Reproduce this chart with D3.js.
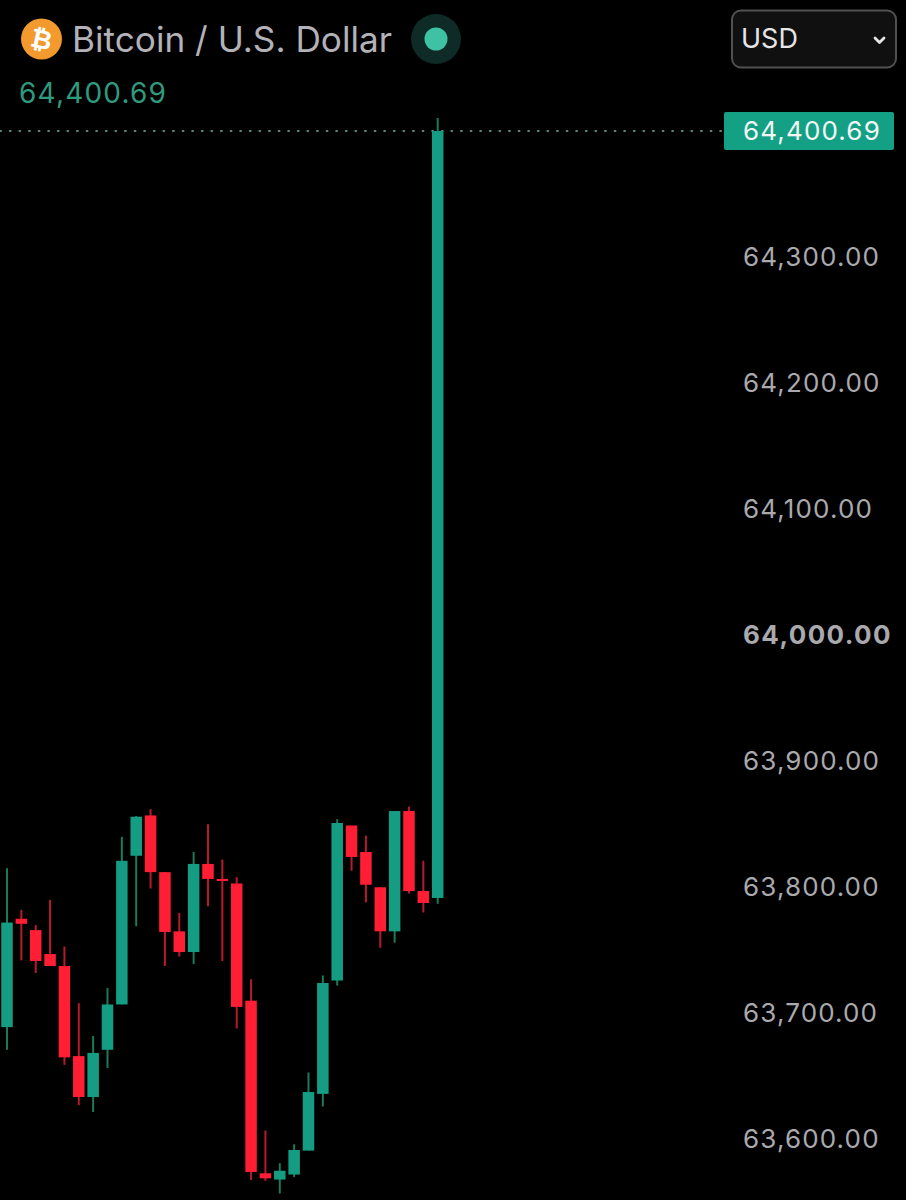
<!DOCTYPE html>
<html>
<head>
<meta charset="utf-8">
<style>
  html, body { margin: 0; padding: 0; background: #000; overflow: hidden; }
  text { font-family: Inter, "Noto Sans", sans-serif; }
</style>
<script src="https://cdn.jsdelivr.net/npm/d3@7"></script>
</head>
<body>
<div id="vis"></div>
<script>
var opens  = [63688, 63774, 63765, 63746, 63736.5, 63665, 63632.5, 63670, 63706, 63824, 63856, 63811, 63764, 63747.6, 63817.5, 63805.6,
              63802, 63709, 63572, 63567, 63571, 63590, 63635, 63725, 63848, 63827, 63799, 63764, 63859.5, 63796, 63790.5];
var highs  = [63814, 63781, 63769, 63789, 63752, 63707, 63681, 63719, 63839, 63855.6, 63861, 63811, 63778.6, 63827, 63849, 63821,
              63807, 63726, 63606, 63580, 63595, 63652, 63729, 63853, 63848, 63840, 63799, 63859.5, 63863, 63820, 64409.5];
var lows   = [63670, 63741, 63731, 63736.5, 63658, 63626, 63620.6, 63655.6, 63706, 63768, 63798, 63736.5, 63744, 63738, 63784, 63740.5,
              63687, 63566.7, 63566, 63556, 63569, 63590, 63625, 63721, 63812, 63787, 63751, 63755, 63794, 63779, 63786];
var closes = [63771, 63770, 63740.5, 63736.5, 63664, 63632.5, 63667.5, 63706, 63820, 63855, 63811, 63763.5, 63747.6, 63817.5, 63805.6, 63804,
              63704, 63573, 63568, 63574, 63590.5, 63636.5, 63723, 63850, 63823, 63801, 63764, 63859.5, 63796, 63786.5, 64399.2];
var yTicks = [63600, 63700, 63800, 63900, 64000, 64100, 64200, 64300];
var lastPrice = 64400.69;
var pairName = 'Bitcoin / U.S. Dollar';
var currency = 'USD';

var width = 906;
var height = 1200;
var upBody = '#149d83', downBody = '#ff1e33';
var upWick = '#1c7a58', downWick = '#b81a2a';

var svg = d3.select('#vis').append('svg')
  .attr('width', width)
  .attr('height', height)
  .style('display', 'block');

svg.append('rect')
  .attr('width', width)
  .attr('height', height)
  .attr('fill', '#000');

var x = d3.scaleLinear().domain([0, opens.length - 1]).range([7, 437.7]);
var y = d3.scaleLinear().domain([63600, 64300]).range([1138, 256]);
var priceFmt = d3.format(',.2f');
var bodyWidth = 11.5;
var lastY = y(closes[closes.length - 1]);

// last price line
svg.append('line')
  .attr('x1', 0)
  .attr('x2', 724)
  .attr('y1', lastY)
  .attr('y2', lastY)
  .attr('stroke', '#7fb5a8')
  .attr('stroke-width', 1.6)
  .attr('stroke-linecap', 'round')
  .attr('stroke-dasharray', '1.2 8.4');

var candles = svg.append('g').selectAll('g')
  .data(d3.range(opens.length))
  .join('g');

candles.append('line')
  .attr('x1', function(i) { return x(i); })
  .attr('x2', function(i) { return x(i); })
  .attr('y1', function(i) { return y(highs[i]); })
  .attr('y2', function(i) { return y(lows[i]); })
  .attr('stroke', function(i) { return closes[i] >= opens[i] ? upWick : downWick; })
  .attr('stroke-width', 2);

candles.append('rect')
  .attr('x', function(i) { return x(i) - bodyWidth / 2; })
  .attr('width', bodyWidth)
  .attr('y', function(i) { return y(Math.max(opens[i], closes[i])); })
  .attr('height', function(i) { return Math.max(1.5, Math.abs(y(opens[i]) - y(closes[i]))); })
  .attr('fill', function(i) { return closes[i] >= opens[i] ? upBody : downBody; });

// price axis
var axis = d3.axisRight(y)
  .tickValues(yTicks)
  .tickSize(0)
  .tickPadding(0)
  .tickFormat(priceFmt);

var axisG = svg.append('g')
  .attr('transform', 'translate(743,1)')
  .call(axis);
axisG.select('.domain').remove();
axisG.selectAll('text')
  .attr('fill', '#a9a9ae')
  .style('font-family', 'Inter, sans-serif')
  .style('font-size', '26px')
  .style('font-weight', function(d) { return d === 64000 ? 700 : 400; })
  .style('letter-spacing', function(d) { return d === 64000 ? '1.4px' : '1.15px'; });

// last price tag
svg.append('rect')
  .attr('x', 724)
  .attr('y', 112)
  .attr('width', 170)
  .attr('height', 38)
  .attr('rx', 2)
  .attr('fill', '#14a085');
svg.append('text')
  .attr('x', 743)
  .attr('y', lastY)
  .attr('dy', '0.35em')
  .attr('fill', '#f2f7f5')
  .style('font-size', '26px')
  .style('letter-spacing', '1.15px')
  .text(priceFmt(lastPrice));

// header
svg.append('circle')
  .attr('cx', 41.5).attr('cy', 39).attr('r', 20.5)
  .attr('fill', '#f29a2e');
svg.append('text')
  .attr('x', 41.5)
  .attr('y', 39)
  .attr('dy', '0.36em')
  .attr('text-anchor', 'middle')
  .attr('fill', '#fff')
  .attr('transform', 'rotate(12 41.5 39)')
  .style('font-family', '"DejaVu Sans", sans-serif')
  .style('font-size', '26px')
  .style('font-weight', 700)
  .text('\u20bf');

svg.append('text')
  .attr('x', 72)
  .attr('y', 52)
  .attr('fill', '#b2b2b8')
  .style('font-size', '35.2px')
  .text(pairName);

svg.append('circle')
  .attr('cx', 436).attr('cy', 39).attr('r', 25)
  .attr('fill', '#0f2b27');
svg.append('circle')
  .attr('cx', 436).attr('cy', 39).attr('r', 11.5)
  .attr('fill', '#3fc1a3');

svg.append('text')
  .attr('x', 19)
  .attr('y', 103)
  .attr('fill', '#2f9a7e')
  .style('font-size', '28px')
  .style('letter-spacing', '1.2px')
  .text(priceFmt(lastPrice));

// currency select
svg.append('rect')
  .attr('x', 732)
  .attr('y', 10.5)
  .attr('width', 164)
  .attr('height', 57)
  .attr('rx', 9)
  .attr('fill', '#101011')
  .attr('stroke', '#505053')
  .attr('stroke-width', 2);
svg.append('text')
  .attr('x', 741)
  .attr('y', 48)
  .attr('fill', '#e6e6e8')
  .style('font-size', '27px')
  .text(currency);
svg.append('path')
  .attr('d', 'M875 38l4.5 4.5l4.5-4.5')
  .attr('fill', 'none')
  .attr('stroke', '#e6e6e8')
  .attr('stroke-width', 2.8)
  .attr('stroke-linecap', 'round')
  .attr('stroke-linejoin', 'round');
</script>
</body>
</html>
